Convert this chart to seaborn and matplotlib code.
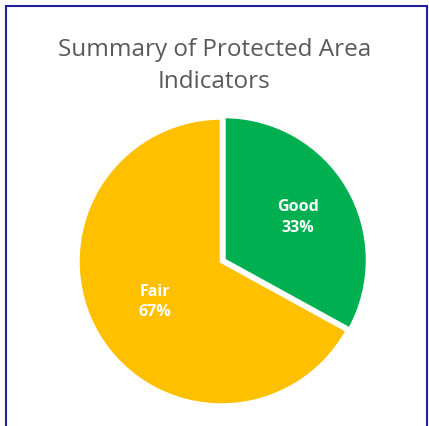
import matplotlib.pyplot as plt
import seaborn as sns
import numpy as np
from matplotlib.patches import Rectangle

# Dados do gráfico
categorias = ['Good', 'Fair']
valores = [33, 67]
cores = ['#00B050', '#FFC000']

sns.set_theme(style='white')
plt.rcParams['font.family'] = ['Open Sans', 'DejaVu Sans']

fig = plt.figure(figsize=(4.29, 4.27), dpi=100)
# pizza centrada em (221, 262) px, raio ~143 px
ax = fig.add_axes([78 / 429, 21 / 427, 287 / 429, 287 / 427])

wedges, textos = ax.pie(valores, colors=cores, startangle=90, counterclock=False,
                        explode=[0.02, 0],
                        wedgeprops=dict(edgecolor='white', linewidth=2.5))
ax.set_aspect('equal')
ax.set_xlim(-1, 1)
ax.set_ylim(-1, 1)

# Rótulos dentro das fatias
raios = [0.62, 0.54]
for w, cat, v, r in zip(wedges, categorias, valores, raios):
    meio = np.deg2rad((w.theta1 + w.theta2) / 2)
    x, y = np.cos(meio) * r, np.sin(meio) * r
    ax.text(x, y, f"{cat}\n{v}%", ha='center', va='center', color='white',
            fontsize=11.5, fontweight='bold', linespacing=1.4)

fig.text(0.5, 0.846, "Summary of Protected Area\nIndicators", ha='center', va='center',
         fontsize=17.5, color='#595959', linespacing=1.43)

# Borda azul
fig.patches.append(Rectangle((6 / 429, -0.05), (427 - 6) / 429, 1.05 - 7 / 427,
                             transform=fig.transFigure, fill=False,
                             edgecolor='#1F1FA0', linewidth=1.5))

plt.savefig("out.png", dpi=100)
